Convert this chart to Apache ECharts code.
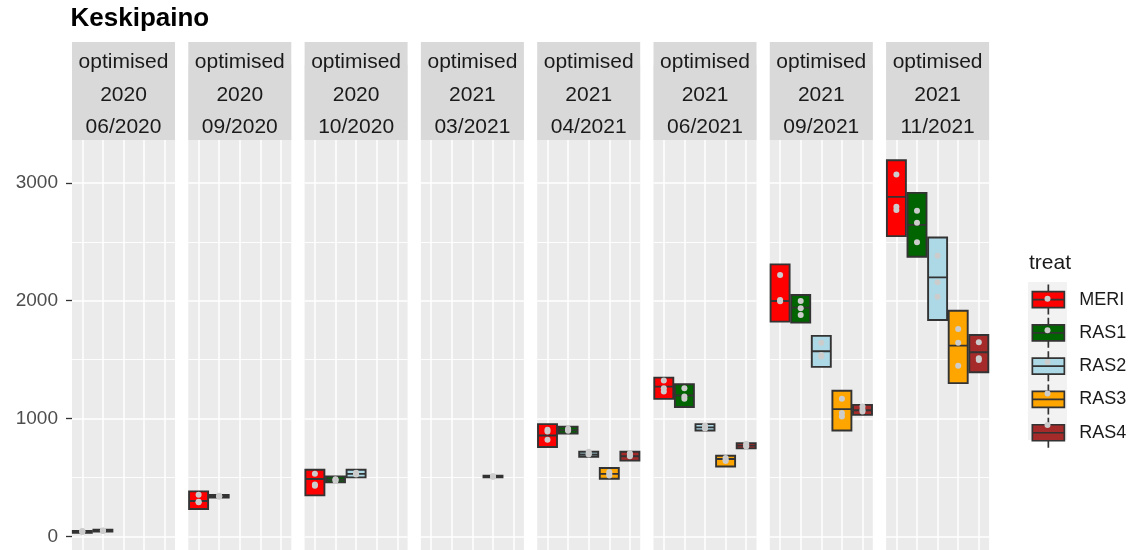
<!DOCTYPE html>
<html><head><meta charset="utf-8">
<script src="https://cdn.jsdelivr.net/npm/echarts@6/dist/echarts.min.js"></script>
<style>html,body{margin:0;padding:0;background:#fff}#c{width:1136px;height:550px}</style>
</head><body><div id="c"></div>
<script>
// ---- data ----
const treats = ['MERI', 'RAS1', 'RAS2', 'RAS3', 'RAS4'];
const treatColors = ['#ff0000', '#006400', '#add8e6', '#ffa500', '#a52a2a'];
const panelGroup = 'optimised';
const panelYears = ['2020', '2020', '2020', '2021', '2021', '2021', '2021', '2021'];
const panelDates = ['06/2020', '09/2020', '10/2020', '03/2021', '04/2021', '06/2021', '09/2021', '11/2021'];
const yTicks = [0, 1000, 2000, 3000];

// box [Q1, median, Q3] per panel (null = no measurement)
const boxMERI = [[30, 38, 45], [232, 300, 381], [347, 486, 565], null, [758, 856, 952], [1167, 1271, 1347], [1822, 1997, 2308], [2548, 2881, 3192]];
const boxRAS1 = [[40, 47, 55], [330, 340, 350], [458, 480, 508], null, [873, 900, 930], [1097, 1195, 1291], [1814, 1941, 2048], [2373, 2644, 2915]];
const boxRAS2 = [null, null, [500, 530, 565], null, [675, 695, 718], [898, 925, 952], [1438, 1571, 1701], [1836, 2198, 2537]];
const boxRAS3 = [null, null, null, [500, 508, 515], [489, 530, 580], [593, 656, 684], [898, 1080, 1235], [1300, 1619, 1915]];
const boxRAS4 = [null, null, null, null, [642, 680, 718], [746, 770, 791], [1031, 1070, 1116], [1393, 1563, 1709]];

// individual observations per panel
const ptsMERI = [[36, 40, 44], [353, 294, 290], [531, 430, 440], [], [904, 890, 819], [1322, 1257, 1229], [2218, 2006, 1995], [3071, 2797, 2769]];
const ptsRAS1 = [[45, 48, 50], [345, 340, 335], [480, 485, 470], [], [913, 905, 895], [1257, 1186, 1167], [1997, 1935, 1879], [2763, 2661, 2497]];
const ptsRAS2 = [[], [], [540, 530, 525], [], [718, 700, 695], [941, 920, 915], [1644, 1540, 1526], [2381, 2156, 2034]];
const ptsRAS3 = [[], [], [], [508, 505, 510], [546, 517, 530], [664, 648, 640], [1167, 1046, 1017], [1760, 1644, 1447]];
const ptsRAS4 = [[], [], [], [], [706, 680, 690], [786, 770, 762], [1102, 1074, 1060], [1647, 1512, 1497]];

const boxes = [boxMERI, boxRAS1, boxRAS2, boxRAS3, boxRAS4];
const points = [ptsMERI, ptsRAS1, ptsRAS2, ptsRAS3, ptsRAS4];

// ---- layout ----
const FONT = 'Liberation Sans, Arial, sans-serif';
const P0 = 72, PSTEP = 116.3, PW = 103;
const GTOP = 65.1, GH = 589;
const STRIP_Y = 42, STRIP_H = 98;
const EDGE = '#333333';

const grids = [], xAxes = [], yAxes = [], series = [], graphics = [];
panelDates.forEach((d, i) => {
  const left = P0 + i * PSTEP;
  grids.push({left: left, top: GTOP, width: PW, height: GH, show: true,
    backgroundColor: '#ebebeb', borderWidth: 0, containLabel: false, outerBoundsMode: 'none'});
  xAxes.push({type: 'category', gridIndex: i, data: treats, boundaryGap: true,
    axisLine: {show: false}, axisTick: {show: false}, axisLabel: {show: false, interval: 0},
    splitLine: {show: true, interval: 0, alignWithLabel: true, lineStyle: {color: '#ffffff', width: 1.5}}});
  const first = i === 0;
  yAxes.push({type: 'value', gridIndex: i, min: -1000, max: 4000, interval: 1000,
    axisLine: {show: false},
    axisTick: {show: first, length: 6, customValues: yTicks, lineStyle: {color: '#333333', width: 1.3}},
    axisLabel: {show: first, customValues: yTicks, margin: 14, fontSize: 19, color: '#4d4d4d', fontFamily: FONT,
      formatter: v => String(v)},
    splitLine: {show: true, lineStyle: {color: '#ffffff', width: 1.6}},
    minorTick: {show: false, splitNumber: 2},
    minorSplitLine: {show: true, lineStyle: {color: '#ffffff', width: 0.9}}});
  series.push({type: 'boxplot', xAxisIndex: i, yAxisIndex: i, boxWidth: [19, 19],
    animation: false, emphasis: {disabled: true}, z: 2,
    itemStyle: {borderColor: EDGE, borderWidth: 1.9},
    data: treats.map((t, k) => {
      const b = boxes[k][i];
      if (!b) return {value: ['-', '-', '-', '-', '-']};
      return {value: [b[0], b[0], b[1], b[2], b[2]],
        itemStyle: {color: treatColors[k], borderColor: EDGE, borderWidth: 1.9}};
    })});
  const pdata = [];
  treats.forEach((t, k) => points[k][i].forEach(v => pdata.push([k, v])));
  series.push({type: 'scatter', xAxisIndex: i, yAxisIndex: i, symbol: 'circle', symbolSize: 6,
    animation: false, emphasis: {disabled: true}, z: 3,
    itemStyle: {color: '#cccccc', opacity: 1}, data: pdata});
  graphics.push({type: 'rect', z: 100, shape: {x: left, y: STRIP_Y, width: PW, height: STRIP_H},
    style: {fill: '#d9d9d9'}});
  graphics.push({type: 'text', z: 101, style: {x: left + PW / 2, y: 95,
    text: panelGroup + '\n' + panelYears[i] + '\n' + d, textAlign: 'center', textVerticalAlign: 'middle',
    fontSize: 21, fontFamily: FONT, fill: '#1a1a1a', lineHeight: 32.4}});
});

// legend-only series
treats.forEach((t, k) => {
  series.push({type: 'scatter', name: t, xAxisIndex: 0, yAxisIndex: 0, data: [],
    itemStyle: {color: treatColors[k], borderColor: EDGE, borderWidth: 1.7, opacity: 1}});
});

const LEG_X = 1031.5, LEG_Y = 283.7, LEG_STEP = 31.6;
graphics.push({type: 'rect', z: 0, shape: {x: 1028, y: 282, width: 39, height: 158}, style: {fill: '#f2f2f2'}});
treats.forEach((t, k) => {
  graphics.push({type: 'circle', z: 100, shape: {cx: LEG_X + 16, cy: LEG_Y + 15 + k * LEG_STEP, r: 3},
    style: {fill: '#cccccc'}});
});
graphics.push({type: 'text', z: 100, style: {x: 1029, y: 263, text: 'treat', textVerticalAlign: 'middle',
  fontSize: 21, fontFamily: FONT, fill: '#1a1a1a'}});

const chart = echarts.init(document.getElementById('c'), null, {renderer: 'canvas'});
chart.setOption({
  animation: false,
  backgroundColor: '#ffffff',
  title: {text: 'Keskipaino', left: 70.5, top: 6, padding: 0,
    textStyle: {fontSize: 26, fontWeight: 'bold', color: '#000000', fontFamily: FONT}},
  legend: {data: treats, orient: 'vertical', left: LEG_X, top: LEG_Y, padding: 0,
    itemWidth: 32, itemHeight: 30, itemGap: LEG_STEP - 30,
    icon: 'path://M0,7L32,7L32,23L0,23Z M16,0L16,7 M16,23L16,30 M0,15L32,15',
    itemStyle: {borderColor: EDGE, borderWidth: 1.7, opacity: 1},
    textStyle: {fontSize: 18, color: '#1a1a1a', fontFamily: FONT, padding: [0, 0, 0, 10]},
    selectedMode: false},
  grid: grids, xAxis: xAxes, yAxis: yAxes, series: series, graphic: graphics
});
</script></body></html>
